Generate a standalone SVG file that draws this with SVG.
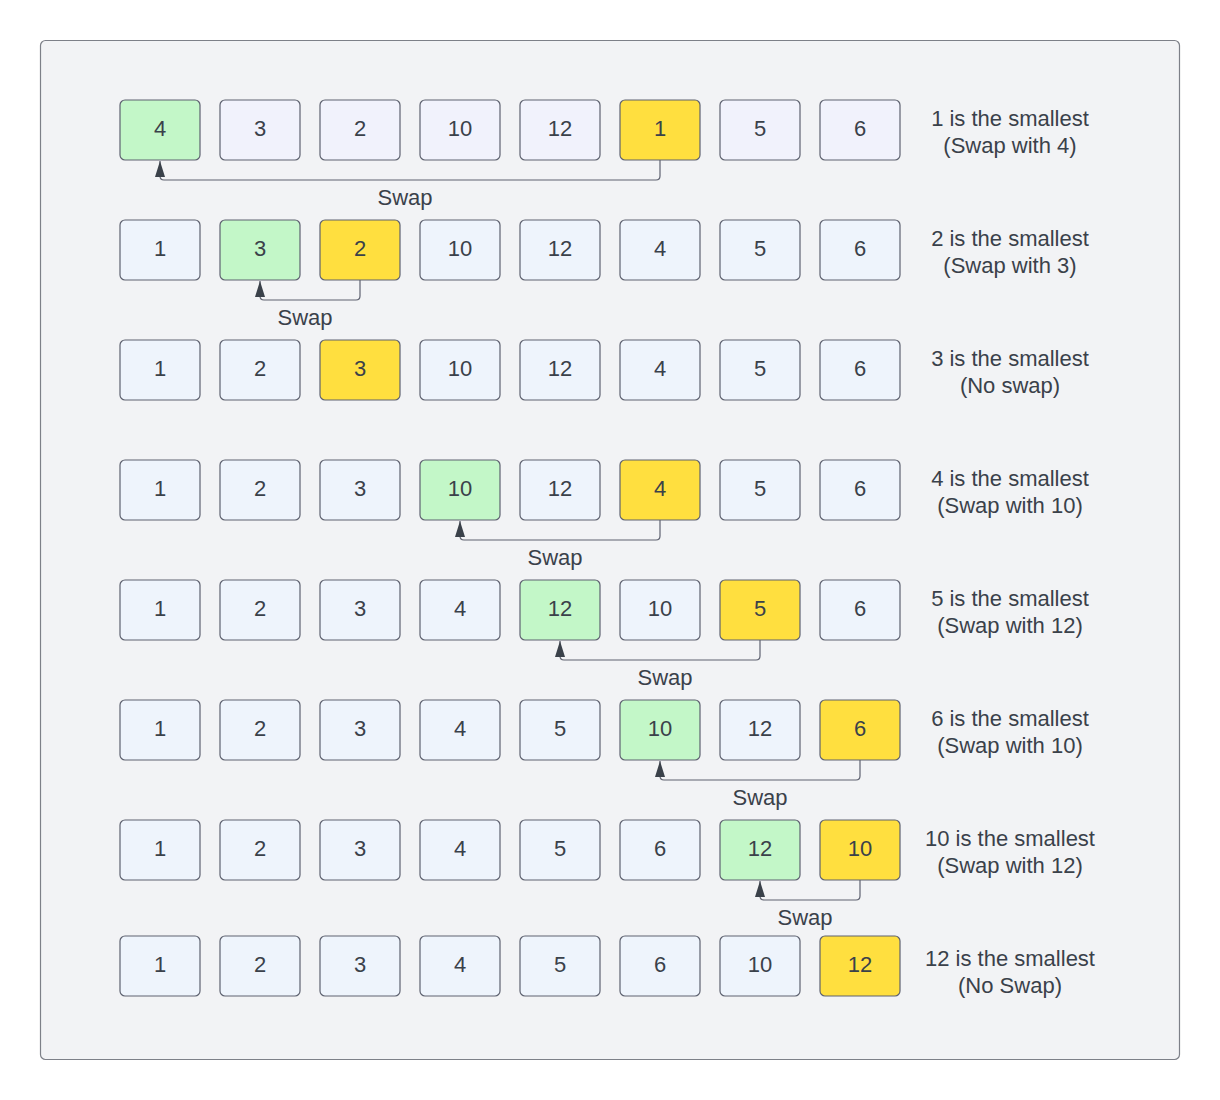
<svg xmlns="http://www.w3.org/2000/svg" width="1220" height="1100" viewBox="0 0 1220 1100">
<style>
.b{stroke:#5e6270;stroke-width:1.2}
.n{fill:#eef4fc}
.p{fill:#f1f2fc}
.g{fill:#c3f7c8}
.y{fill:#ffdf3f}
text{font-family:"Liberation Sans",Arial,sans-serif;font-size:22px;fill:#3a414a;text-anchor:middle}
.c{fill:none;stroke:#5e6270;stroke-width:1.2}
</style>
<defs>
<marker id="ah" viewBox="0 0 16 10" refX="16" refY="5" markerWidth="16" markerHeight="10" markerUnits="userSpaceOnUse" orient="auto">
<path d="M16 5 L0 0 L0 10 Z" fill="#3a414a"/>
</marker>
</defs>
<rect x="40.5" y="40.5" width="1139" height="1019" rx="5" fill="#f2f3f5" stroke="#7d8088" stroke-width="1.2"/>

<g id="row1">
<g id="r1c1"><rect class="b g" x="120" y="100" width="80" height="60" rx="5"/><text x="160" y="136">4</text></g>
<g id="r1c2"><rect class="b p" x="220" y="100" width="80" height="60" rx="5"/><text x="260" y="136">3</text></g>
<g id="r1c3"><rect class="b p" x="320" y="100" width="80" height="60" rx="5"/><text x="360" y="136">2</text></g>
<g id="r1c4"><rect class="b p" x="420" y="100" width="80" height="60" rx="5"/><text x="460" y="136">10</text></g>
<g id="r1c5"><rect class="b p" x="520" y="100" width="80" height="60" rx="5"/><text x="560" y="136">12</text></g>
<g id="r1c6"><rect class="b y" x="620" y="100" width="80" height="60" rx="5"/><text x="660" y="136">1</text></g>
<g id="r1c7"><rect class="b p" x="720" y="100" width="80" height="60" rx="5"/><text x="760" y="136">5</text></g>
<g id="r1c8"><rect class="b p" x="820" y="100" width="80" height="60" rx="5"/><text x="860" y="136">6</text></g>
<g id="r1note"><text x="1010" y="126">1 is the smallest</text><text x="1010" y="153">(Swap with 4)</text></g>
</g>

<g id="row2">
<g id="r2c1"><rect class="b n" x="120" y="220" width="80" height="60" rx="5"/><text x="160" y="256">1</text></g>
<g id="r2c2"><rect class="b g" x="220" y="220" width="80" height="60" rx="5"/><text x="260" y="256">3</text></g>
<g id="r2c3"><rect class="b y" x="320" y="220" width="80" height="60" rx="5"/><text x="360" y="256">2</text></g>
<g id="r2c4"><rect class="b n" x="420" y="220" width="80" height="60" rx="5"/><text x="460" y="256">10</text></g>
<g id="r2c5"><rect class="b n" x="520" y="220" width="80" height="60" rx="5"/><text x="560" y="256">12</text></g>
<g id="r2c6"><rect class="b n" x="620" y="220" width="80" height="60" rx="5"/><text x="660" y="256">4</text></g>
<g id="r2c7"><rect class="b n" x="720" y="220" width="80" height="60" rx="5"/><text x="760" y="256">5</text></g>
<g id="r2c8"><rect class="b n" x="820" y="220" width="80" height="60" rx="5"/><text x="860" y="256">6</text></g>
<g id="r2note"><text x="1010" y="246">2 is the smallest</text><text x="1010" y="273">(Swap with 3)</text></g>
</g>

<g id="row3">
<g id="r3c1"><rect class="b n" x="120" y="340" width="80" height="60" rx="5"/><text x="160" y="376">1</text></g>
<g id="r3c2"><rect class="b n" x="220" y="340" width="80" height="60" rx="5"/><text x="260" y="376">2</text></g>
<g id="r3c3"><rect class="b y" x="320" y="340" width="80" height="60" rx="5"/><text x="360" y="376">3</text></g>
<g id="r3c4"><rect class="b n" x="420" y="340" width="80" height="60" rx="5"/><text x="460" y="376">10</text></g>
<g id="r3c5"><rect class="b n" x="520" y="340" width="80" height="60" rx="5"/><text x="560" y="376">12</text></g>
<g id="r3c6"><rect class="b n" x="620" y="340" width="80" height="60" rx="5"/><text x="660" y="376">4</text></g>
<g id="r3c7"><rect class="b n" x="720" y="340" width="80" height="60" rx="5"/><text x="760" y="376">5</text></g>
<g id="r3c8"><rect class="b n" x="820" y="340" width="80" height="60" rx="5"/><text x="860" y="376">6</text></g>
<g id="r3note"><text x="1010" y="366">3 is the smallest</text><text x="1010" y="393">(No swap)</text></g>
</g>

<g id="row4">
<g id="r4c1"><rect class="b n" x="120" y="460" width="80" height="60" rx="5"/><text x="160" y="496">1</text></g>
<g id="r4c2"><rect class="b n" x="220" y="460" width="80" height="60" rx="5"/><text x="260" y="496">2</text></g>
<g id="r4c3"><rect class="b n" x="320" y="460" width="80" height="60" rx="5"/><text x="360" y="496">3</text></g>
<g id="r4c4"><rect class="b g" x="420" y="460" width="80" height="60" rx="5"/><text x="460" y="496">10</text></g>
<g id="r4c5"><rect class="b n" x="520" y="460" width="80" height="60" rx="5"/><text x="560" y="496">12</text></g>
<g id="r4c6"><rect class="b y" x="620" y="460" width="80" height="60" rx="5"/><text x="660" y="496">4</text></g>
<g id="r4c7"><rect class="b n" x="720" y="460" width="80" height="60" rx="5"/><text x="760" y="496">5</text></g>
<g id="r4c8"><rect class="b n" x="820" y="460" width="80" height="60" rx="5"/><text x="860" y="496">6</text></g>
<g id="r4note"><text x="1010" y="486">4 is the smallest</text><text x="1010" y="513">(Swap with 10)</text></g>
</g>

<g id="row5">
<g id="r5c1"><rect class="b n" x="120" y="580" width="80" height="60" rx="5"/><text x="160" y="616">1</text></g>
<g id="r5c2"><rect class="b n" x="220" y="580" width="80" height="60" rx="5"/><text x="260" y="616">2</text></g>
<g id="r5c3"><rect class="b n" x="320" y="580" width="80" height="60" rx="5"/><text x="360" y="616">3</text></g>
<g id="r5c4"><rect class="b n" x="420" y="580" width="80" height="60" rx="5"/><text x="460" y="616">4</text></g>
<g id="r5c5"><rect class="b g" x="520" y="580" width="80" height="60" rx="5"/><text x="560" y="616">12</text></g>
<g id="r5c6"><rect class="b n" x="620" y="580" width="80" height="60" rx="5"/><text x="660" y="616">10</text></g>
<g id="r5c7"><rect class="b y" x="720" y="580" width="80" height="60" rx="5"/><text x="760" y="616">5</text></g>
<g id="r5c8"><rect class="b n" x="820" y="580" width="80" height="60" rx="5"/><text x="860" y="616">6</text></g>
<g id="r5note"><text x="1010" y="606">5 is the smallest</text><text x="1010" y="633">(Swap with 12)</text></g>
</g>

<g id="row6">
<g id="r6c1"><rect class="b n" x="120" y="700" width="80" height="60" rx="5"/><text x="160" y="736">1</text></g>
<g id="r6c2"><rect class="b n" x="220" y="700" width="80" height="60" rx="5"/><text x="260" y="736">2</text></g>
<g id="r6c3"><rect class="b n" x="320" y="700" width="80" height="60" rx="5"/><text x="360" y="736">3</text></g>
<g id="r6c4"><rect class="b n" x="420" y="700" width="80" height="60" rx="5"/><text x="460" y="736">4</text></g>
<g id="r6c5"><rect class="b n" x="520" y="700" width="80" height="60" rx="5"/><text x="560" y="736">5</text></g>
<g id="r6c6"><rect class="b g" x="620" y="700" width="80" height="60" rx="5"/><text x="660" y="736">10</text></g>
<g id="r6c7"><rect class="b n" x="720" y="700" width="80" height="60" rx="5"/><text x="760" y="736">12</text></g>
<g id="r6c8"><rect class="b y" x="820" y="700" width="80" height="60" rx="5"/><text x="860" y="736">6</text></g>
<g id="r6note"><text x="1010" y="726">6 is the smallest</text><text x="1010" y="753">(Swap with 10)</text></g>
</g>

<g id="row7">
<g id="r7c1"><rect class="b n" x="120" y="820" width="80" height="60" rx="5"/><text x="160" y="856">1</text></g>
<g id="r7c2"><rect class="b n" x="220" y="820" width="80" height="60" rx="5"/><text x="260" y="856">2</text></g>
<g id="r7c3"><rect class="b n" x="320" y="820" width="80" height="60" rx="5"/><text x="360" y="856">3</text></g>
<g id="r7c4"><rect class="b n" x="420" y="820" width="80" height="60" rx="5"/><text x="460" y="856">4</text></g>
<g id="r7c5"><rect class="b n" x="520" y="820" width="80" height="60" rx="5"/><text x="560" y="856">5</text></g>
<g id="r7c6"><rect class="b n" x="620" y="820" width="80" height="60" rx="5"/><text x="660" y="856">6</text></g>
<g id="r7c7"><rect class="b g" x="720" y="820" width="80" height="60" rx="5"/><text x="760" y="856">12</text></g>
<g id="r7c8"><rect class="b y" x="820" y="820" width="80" height="60" rx="5"/><text x="860" y="856">10</text></g>
<g id="r7note"><text x="1010" y="846">10 is the smallest</text><text x="1010" y="873">(Swap with 12)</text></g>
</g>

<g id="row8">
<g id="r8c1"><rect class="b n" x="120" y="936" width="80" height="60" rx="5"/><text x="160" y="972">1</text></g>
<g id="r8c2"><rect class="b n" x="220" y="936" width="80" height="60" rx="5"/><text x="260" y="972">2</text></g>
<g id="r8c3"><rect class="b n" x="320" y="936" width="80" height="60" rx="5"/><text x="360" y="972">3</text></g>
<g id="r8c4"><rect class="b n" x="420" y="936" width="80" height="60" rx="5"/><text x="460" y="972">4</text></g>
<g id="r8c5"><rect class="b n" x="520" y="936" width="80" height="60" rx="5"/><text x="560" y="972">5</text></g>
<g id="r8c6"><rect class="b n" x="620" y="936" width="80" height="60" rx="5"/><text x="660" y="972">6</text></g>
<g id="r8c7"><rect class="b n" x="720" y="936" width="80" height="60" rx="5"/><text x="760" y="972">10</text></g>
<g id="r8c8"><rect class="b y" x="820" y="936" width="80" height="60" rx="5"/><text x="860" y="972">12</text></g>
<g id="r8note"><text x="1010" y="966">12 is the smallest</text><text x="1010" y="993">(No Swap)</text></g>
</g>

<g id="connectors">
<path class="c" d="M660 160 V176 Q660 180 656 180 H164 Q160 180 160 176 V161" marker-end="url(#ah)"/>
<text x="405" y="205">Swap</text>
<path class="c" d="M360 280 V296 Q360 300 356 300 H264 Q260 300 260 296 V281" marker-end="url(#ah)"/>
<text x="305" y="325">Swap</text>
<path class="c" d="M660 520 V536 Q660 540 656 540 H464 Q460 540 460 536 V521" marker-end="url(#ah)"/>
<text x="555" y="565">Swap</text>
<path class="c" d="M760 640 V656 Q760 660 756 660 H564 Q560 660 560 656 V641" marker-end="url(#ah)"/>
<text x="665" y="685">Swap</text>
<path class="c" d="M860 760 V776 Q860 780 856 780 H664 Q660 780 660 776 V761" marker-end="url(#ah)"/>
<text x="760" y="805">Swap</text>
<path class="c" d="M860 880 V896 Q860 900 856 900 H764 Q760 900 760 896 V881" marker-end="url(#ah)"/>
<text x="805" y="925">Swap</text>
</g>
</svg>
